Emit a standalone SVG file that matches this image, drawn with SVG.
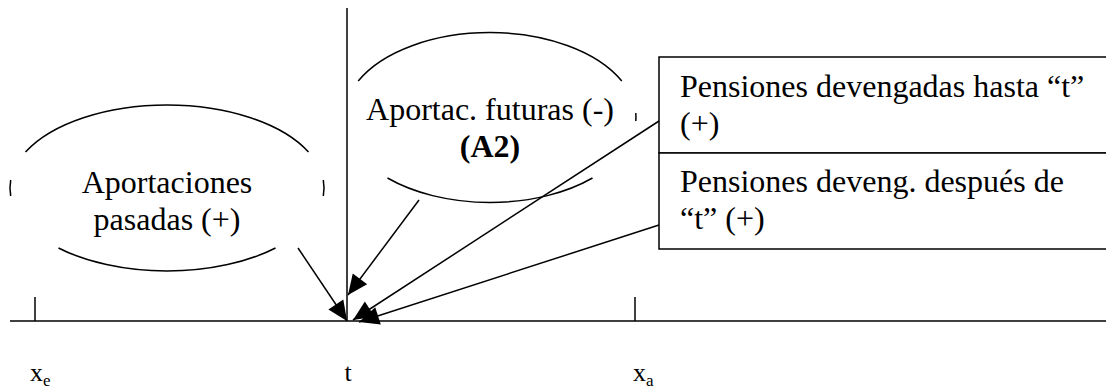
<svg xmlns="http://www.w3.org/2000/svg" width="1106" height="389" viewBox="0 0 1106 389">
  <defs>
    <marker id="arrow" markerUnits="userSpaceOnUse" markerWidth="22" markerHeight="20" refX="20" refY="9" orient="auto" overflow="visible">
      <path d="M0,0 L20,9 L0,18 Z" fill="#000"/>
    </marker>
    <style>
      .t { font-family: "Liberation Serif", "Times New Roman", serif; font-size: 32px; fill: #000; }
      .ax { font-family: "Liberation Serif", "Times New Roman", serif; font-size: 26px; fill: #000; }
      .ln { stroke: #000; stroke-width: 1.5; fill: none; }
      .box { stroke: #000; stroke-width: 1.5; fill: #fff; }
      .con { stroke: #000; stroke-width: 1.5; fill: none; marker-end: url(#arrow); }
    </style>
  </defs>
  <rect width="1106" height="389" fill="#fff"/>

  <g id="axis">
    <line class="ln" x1="10" y1="321" x2="1106" y2="321"/>
    <line class="ln" x1="347" y1="8" x2="347" y2="321"/>
    <line class="ln" x1="35" y1="297" x2="35" y2="321"/>
    <line class="ln" x1="635" y1="297" x2="635" y2="321"/>
    <text class="ax" x="30" y="381">x<tspan font-size="17" dy="5">e</tspan></text>
    <text class="ax" x="348" y="381" text-anchor="middle">t</text>
    <text class="ax" x="633" y="381">x<tspan font-size="17" dy="5">a</tspan></text>
  </g>

  <g id="aportaciones-pasadas">
    <path class="ln" d="M25.5,152 A157,83 0 0 1 308.5,152"/>
    <path class="ln" d="M58.5,248 A157,83 0 0 0 275.5,248"/>
    <path class="ln" d="M10.7,180 A157,83 0 0 0 10.7,196"/>
    <path class="ln" d="M323.3,180 A157,83 0 0 1 323.3,196"/>
    <text class="t" x="167" y="193" text-anchor="middle">Aportaciones</text>
    <text class="t" x="167" y="230" text-anchor="middle">pasadas (+)</text>
  </g>

  <g id="aportac-futuras">
    <path class="ln" d="M358.2,81 A146,85 0 0 1 621.8,81"/>
    <path class="ln" d="M387.5,178 A146,85 0 0 0 592.5,178"/>
    <path class="ln" d="M635.8,113 A146,85 0 0 1 635.8,121"/>
    <text class="t" x="490" y="120" text-anchor="middle">Aportac. futuras (-)</text>
    <text class="t" x="490" y="157" text-anchor="middle" font-weight="bold">(A2)</text>
  </g>

  <g id="pensiones-hasta">
    <rect class="box" x="659" y="57" width="460" height="96"/>
    <text class="t" x="680" y="97">Pensiones devengadas hasta “t”</text>
    <text class="t" x="680" y="134">(+)</text>
  </g>

  <g id="pensiones-despues">
    <rect class="box" x="659" y="153" width="460" height="96"/>
    <text class="t" x="680" y="192">Pensiones deveng. después de</text>
    <text class="t" x="680" y="229">“t” (+)</text>
  </g>

  <g id="connectors">
    <line class="con" x1="298" y1="248" x2="347" y2="321"/>
    <line class="con" x1="419" y1="200" x2="348" y2="295"/>
    <line class="con" x1="659" y1="121" x2="353" y2="320"/>
    <line class="con" x1="659" y1="225" x2="359" y2="322"/>
  </g>
</svg>
